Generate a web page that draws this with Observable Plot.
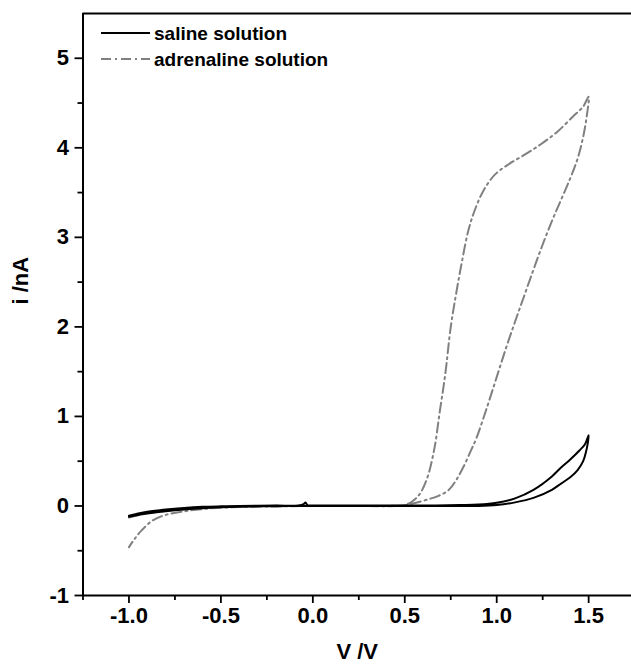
<!DOCTYPE html>
<html>
<head>
<meta charset="utf-8">
<script src="https://cdn.jsdelivr.net/npm/d3@7"></script>
<script src="https://cdn.jsdelivr.net/npm/@observablehq/plot@0.6"></script>
<style>
  html, body { margin: 0; padding: 0; background: #fff; overflow: hidden; }
  #wrap { position: relative; width: 631px; height: 668px; }
  #legend { position: absolute; left: 0; top: 0; pointer-events: none; }
  #legend text { font-family: "Liberation Sans", Arial, sans-serif; font-weight: bold; font-size: 19px; fill: #000; }
</style>
</head>
<body>
<div id="wrap">
  <div id="chart"></div>
  <svg id="legend" width="631" height="80">
    <line x1="101" x2="150" y1="33" y2="33" stroke="#000" stroke-width="2"></line>
    <text x="154" y="33" dominant-baseline="central">saline solution</text>
    <line x1="101" x2="150" y1="59" y2="59" stroke="#808080" stroke-width="2" stroke-dasharray="10,4,2,4"></line>
    <text x="154" y="59" dominant-baseline="central">adrenaline solution</text>
  </svg>
</div>
<script>
// ---- data ----
const xMajor = [-1.0, -0.5, 0.0, 0.5, 1.0, 1.5];
const xMinor = [-1.25, -0.75, -0.25, 0.25, 0.75, 1.25];
const yMajor = [-1, 0, 1, 2, 3, 4, 5];
const yMinor = [-0.5, 0.5, 1.5, 2.5, 3.5, 4.5];

// saline solution (forward then reverse scan)
const salineV = [-1.0, -0.95, -0.9, -0.8, -0.7, -0.6, -0.5, -0.4, -0.2, -0.08, -0.05, -0.04, -0.03, 0.0, 0.2, 0.4, 0.6, 0.8, 0.9, 1.0, 1.1, 1.2, 1.3, 1.35, 1.4, 1.45, 1.48, 1.5,
                 1.495, 1.485, 1.47, 1.44, 1.4, 1.35, 1.3, 1.2, 1.1, 1.0, 0.9, 0.6, 0.2, 0.0, -0.2, -0.4, -0.5, -0.6, -0.7, -0.8, -0.9, -0.95, -1.0];
const salineI = [-0.11, -0.085, -0.065, -0.04, -0.022, -0.01, -0.004, 0.0, 0.005, 0.005, 0.02, 0.04, 0.01, 0.005, 0.005, 0.005, 0.005, 0.01, 0.015, 0.035, 0.085, 0.18, 0.33, 0.43, 0.52, 0.62, 0.69, 0.79,
                 0.7, 0.6, 0.5, 0.4, 0.32, 0.25, 0.18, 0.09, 0.04, 0.01, 0.0, 0.0, 0.0, 0.0, -0.002, -0.008, -0.015, -0.025, -0.04, -0.06, -0.085, -0.1, -0.12];

// adrenaline solution (forward then reverse scan)
const adrenV = [-1.0, -0.9, -0.8, -0.7, -0.6, -0.5, -0.3, 0.0, 0.2, 0.45, 0.5, 0.54, 0.58, 0.62, 0.66, 0.69, 0.72, 0.75, 0.78, 0.81, 0.845, 0.88, 0.93, 0.99, 1.06, 1.15, 1.24, 1.33, 1.42, 1.47, 1.5,
                1.49, 1.47, 1.44, 1.4, 1.35, 1.3, 1.25, 1.2, 1.15, 1.1, 1.05, 1.0, 0.95, 0.89, 0.86, 0.82, 0.78, 0.74, 0.68, 0.62, 0.55, 0.5, 0.4, 0.2, 0.0, -0.2, -0.4, -0.5, -0.6, -0.7, -0.8, -0.87, -0.93, -0.97, -1.0];
const adrenI = [-0.13, -0.08, -0.055, -0.035, -0.02, -0.01, 0.0, 0.0, 0.0, 0.0, 0.01, 0.05, 0.13, 0.3, 0.63, 1.05, 1.47, 2.0, 2.38, 2.72, 3.07, 3.3, 3.53, 3.7, 3.81, 3.92, 4.04, 4.18, 4.36, 4.46, 4.57,
                4.36, 4.12, 3.88, 3.66, 3.42, 3.18, 2.92, 2.64, 2.35, 2.06, 1.76, 1.44, 1.12, 0.76, 0.62, 0.44, 0.29, 0.18, 0.11, 0.07, 0.03, 0.01, 0.0, 0.0, 0.0, -0.005, -0.012, -0.02, -0.035, -0.06, -0.1, -0.16, -0.27, -0.37, -0.46];

const saline = salineV.map((v, k) => ({V: v, I: salineI[k]}));
const adren = adrenV.map((v, k) => ({V: v, I: adrenI[k]}));

const fmt = d => d.toFixed(1);

const chart = Plot.plot({
  width: 631,
  height: 668,
  marginLeft: 82.5,
  marginRight: 0,
  marginTop: 13,
  marginBottom: 73,
  x: {domain: [-1.25, 1.733]},
  y: {domain: [-1, 5.5]},
  style: {
    fontFamily: "'Liberation Sans', Arial, sans-serif",
    fontWeight: "bold",
    fontSize: "22px",
    color: "#000",
    background: "#fff",
    overflow: "visible"
  },
  marks: [
    Plot.axisX({ticks: xMinor, tickSize: 5, strokeWidth: 1.8, tickFormat: () => null, label: null}),
    Plot.axisX({ticks: xMajor, tickSize: 8, strokeWidth: 1.8, tickPadding: 4, tickFormat: fmt, label: null, fontSize: 22}),
    Plot.axisY({ticks: yMinor, tickSize: 5, strokeWidth: 1.8, tickFormat: () => null, label: null}),
    Plot.axisY({ticks: yMajor, tickSize: 8, strokeWidth: 1.8, tickPadding: 6, tickFormat: d => String(d), label: null, fontSize: 22}),
    Plot.ruleX([-1.25], {stroke: "#000", strokeWidth: 2}),
    Plot.ruleY([-1], {stroke: "#000", strokeWidth: 2}),
    Plot.ruleY([5.5], {stroke: "#000", strokeWidth: 2}),
    Plot.line(adren, {x: "V", y: "I", stroke: "#808080", strokeWidth: 2, strokeDasharray: "10,4,2,4", curve: "catmull-rom"}),
    Plot.line(saline, {x: "V", y: "I", stroke: "#000", strokeWidth: 2, curve: "catmull-rom"}),
    Plot.text(["V /V"], {frameAnchor: "bottom", dy: 56, text: d => d, fontSize: 22, fontWeight: "bold", lineAnchor: "middle"}),
    Plot.text(["i /nA"], {frameAnchor: "left", dx: -62.5, rotate: -90, text: d => d, fontSize: 22, fontWeight: "bold"})
  ]
});
document.getElementById("chart").appendChild(chart);
</script>
</body>
</html>
